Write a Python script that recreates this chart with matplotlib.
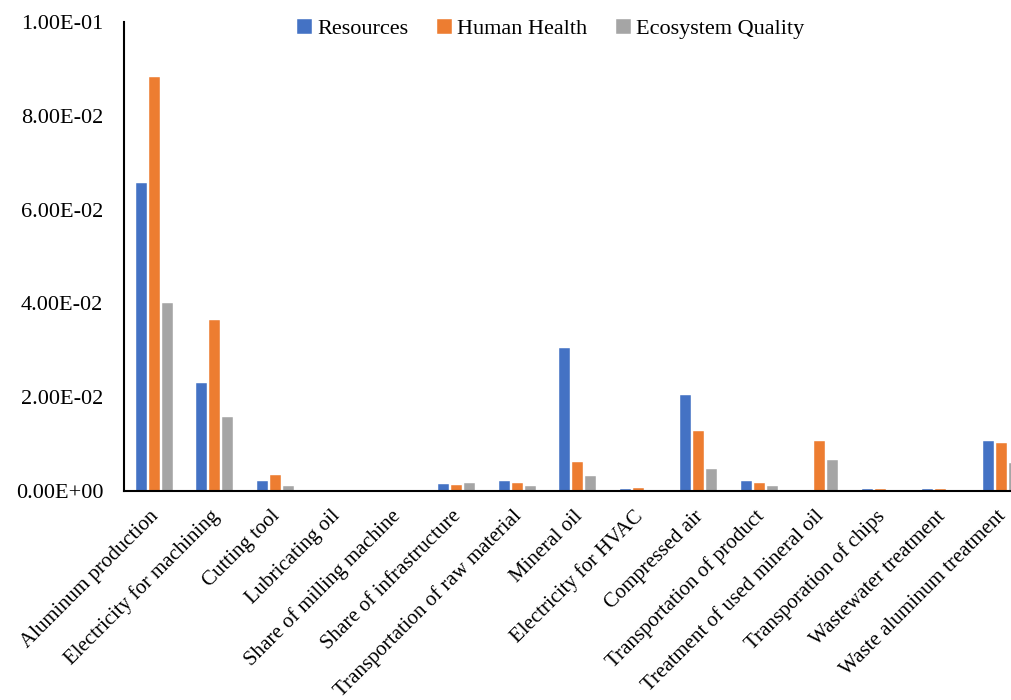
import numpy as np
import matplotlib.pyplot as plt
from matplotlib.ticker import FormatStrFormatter

plt.rcParams['font.family'] = ['Liberation Serif', 'DejaVu Serif']

categories = ['Aluminum production', 'Electricity for machining', 'Cutting tool',
              'Lubricating oil', 'Share of milling machine', 'Share of infrastructure',
              'Transportation of raw material', 'Mineral oil', 'Electricity for HVAC',
              'Compressed air', 'Transportation of product', 'Treatment of used mineral oil',
              'Transporation of chips', 'Wastewater treatment', 'Waste aluminum treatment']

resources = [0.0657, 0.0230, 0.0021, 0.0, 0.0, 0.0014, 0.0021, 0.0305, 0.0004,
             0.0205, 0.0021, 0.0, 0.0004, 0.0004, 0.0107]
human_health = [0.0883, 0.0365, 0.0034, 0.0, 0.0, 0.0012, 0.0017, 0.0062, 0.0006,
                0.0128, 0.0017, 0.0107, 0.0004, 0.0005, 0.0102]
ecosystem = [0.0401, 0.0158, 0.0010, 0.0, 0.0, 0.0016, 0.0011, 0.0031, 0.0001,
             0.0047, 0.0011, 0.0066, 0.0001, 0.0001, 0.0059]

series = [('Resources', resources, '#4472C4'),
          ('Human Health', human_health, '#ED7D31'),
          ('Ecosystem Quality', ecosystem, '#A5A5A5')]

fig = plt.figure(figsize=(10.12, 7), dpi=100)
# axes run past the right edge of the figure, so the last group is cut off
ax = fig.add_axes([124 / 1012, 1 - 491 / 700, 907.5 / 1012, 469 / 700])

x = np.arange(len(categories))
w = 0.18
step = 0.215
for i, (name, vals, col) in enumerate(series):
    ax.bar(x + (i - 1) * step, vals, width=w, color=col, label=name,
           edgecolor='white', linewidth=0.3)

ax.set_xlim(-0.5, len(categories) - 0.5)
ax.set_ylim(0, 0.1)
ax.set_yticks(np.arange(0, 0.1001, 0.02))
ax.yaxis.set_major_formatter(FormatStrFormatter('%.2E'))
ax.tick_params(axis='y', length=0, labelsize=16, pad=15)
ax.tick_params(axis='x', length=0, labelsize=15, pad=15)
ax.set_xticks(x)
ax.set_xticklabels(categories, rotation=45, ha='right', va='center_baseline',
                   rotation_mode='anchor')

for s in ['top', 'right']:
    ax.spines[s].set_visible(False)
ax.spines['left'].set_linewidth(1.5)
ax.spines['bottom'].set_linewidth(1.5)

fig.legend(loc='center', bbox_to_anchor=(551 / 1012, 1 - 29 / 700), ncol=3,
           frameon=False, fontsize=16, handlelength=0.65, handleheight=0.65,
           handletextpad=0.25, columnspacing=1.3)

fig.savefig('out.png', dpi=100)
